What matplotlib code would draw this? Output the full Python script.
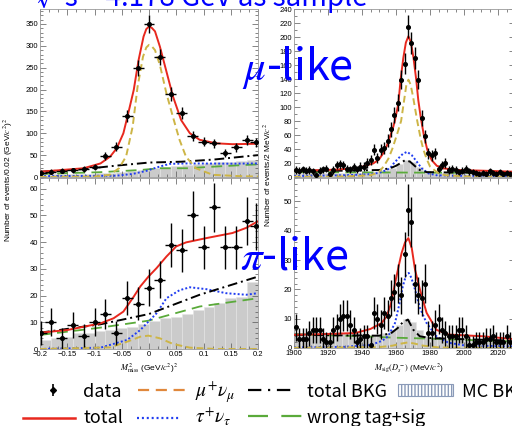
import numpy as np
import matplotlib.pyplot as plt
from matplotlib.patches import Rectangle
from matplotlib.ticker import MultipleLocator, AutoMinorLocator, FuncFormatter

plt.rcParams['font.family'] = ['Liberation Sans', 'DejaVu Sans']
plt.rcParams['mathtext.fontset'] = 'stix'

# ---------------- left column: M^2_miss ----------------
m2_x = [-0.198, -0.18, -0.16, -0.14, -0.12, -0.10, -0.08, -0.06, -0.04, -0.02, 0.0,
        0.02, 0.04, 0.06, 0.08, 0.10, 0.12, 0.14, 0.16, 0.18, 0.196]
m2_mc_x = [-0.19, -0.17, -0.15, -0.13, -0.11, -0.09, -0.07, -0.05, -0.03, -0.01,
           0.01, 0.03, 0.05, 0.07, 0.09, 0.11, 0.13, 0.15, 0.17, 0.19]

# mu-like
tl_n = [10, 12, 14, 15, 18, 22, 49, 69, 140, 249, 349, 275, 190, 147, 94, 81, 77, 54, 68, 85, 79]
tl_mc = [5, 6, 7, 8, 8, 9, 10, 12, 14, 17, 21, 24, 26, 28, 30, 32, 34, 35, 37, 39]
tl_red_x = [-0.2, -0.12, -0.089, -0.071, -0.059, -0.047, -0.038, -0.028, -0.019, -0.01, -0.005, 0.0,
            0.005, 0.011, 0.02, 0.032, 0.044, 0.059, 0.075, 0.093, 0.123, 0.153, 0.2]
tl_red_y = [12, 20, 31, 47, 66, 100, 146, 199, 268, 321, 338, 344, 341, 333, 298, 241, 184, 130, 100,
            85, 77, 75, 76]
tl_mu_x = [-0.2, -0.1, -0.072, -0.055, -0.042, -0.03, -0.021, -0.011, -0.005, 0.0, 0.005, 0.011,
           0.02, 0.032, 0.044, 0.056, 0.068, 0.086, 0.117, 0.166, 0.2]
tl_mu_y = [0, 1, 5, 20, 47, 115, 206, 275, 296, 302, 299, 290, 256, 191, 137, 85, 46, 20, 5, 2, 1]
tl_bkg_x = [-0.2, -0.12, -0.06, 0.0, 0.06, 0.12, 0.2]
tl_bkg_y = [12, 18, 26, 33, 35, 40, 50]
tl_tau_x = [-0.2, -0.06, -0.03, -0.005, 0.02, 0.038, 0.07, 0.15, 0.2]
tl_tau_y = [2, 3, 7, 14, 24, 30, 31, 30.5, 31]
tl_wt_x = [-0.2, -0.09, -0.016, 0.02, 0.07, 0.123, 0.2]
tl_wt_y = [7, 11, 16, 20, 20, 24, 29]

# pi-like
bl_n = [6, 10, 4, 9, 5, 10, 13, 6, 19, 17, 23, 26, 39, 37, 50, 38, 53, 38, 38, 48, 46]
bl_mc = [3.5, 4, 4.6, 6, 6.1, 6.8, 7.1, 7.8, 8.4, 9.4, 10.3, 11.5, 12.1, 13.1, 14.6, 15.9, 17.1,
         19, 19.6, 24.9]
bl_red_x = [-0.2, -0.15, -0.089, -0.065, -0.047, -0.028, -0.016, -0.001, 0.014, 0.032, 0.05,
            0.068, 0.105, 0.153, 0.178, 0.2]
bl_red_y = [6.1, 7.1, 9.6, 11.5, 14, 19.6, 23.4, 27.1, 30.3, 34.6, 38.4, 39.9, 41.5, 43.4, 45.3, 47.8]
bl_mu_x = [-0.2, -0.071, -0.04, -0.016, -0.001, 0.02, 0.044, 0.075, 0.123, 0.2]
bl_mu_y = [0, 0.6, 2.75, 4.6, 5, 4, 1.9, 0.5, 0, 0]
bl_bkg_x = [-0.2, -0.089, 0.0, 0.093, 0.2]
bl_bkg_y = [6.1, 9.25, 13.1, 20.3, 27.1]
bl_tau_x = [-0.2, -0.089, -0.04, -0.016, -0.001, 0.014, 0.032, 0.056, 0.075, 0.105, 0.141, 0.178, 0.2]
bl_tau_y = [0, 0.5, 3.4, 7.1, 10.25, 13.4, 19, 22, 23.1, 22.4, 20.9, 20.3, 20.9]
bl_wt_x = [-0.2, -0.089, -0.001, 0.093, 0.2]
bl_wt_y = [5.25, 8, 10.6, 15.9, 19]

# ---------------- right column: M_sig(Ds) ----------------
ms_x = np.arange(1901, 2029, 2)
ms_mc_x = np.arange(1902, 2031, 4)

tr_n = [10, 9, 11, 9, 10, 8, 3, 9, 11, 12,
        5, 10, 17, 18, 17, 12, 11, 14, 11, 15,
        15, 20, 24, 39, 27, 39, 42, 52, 68, 89,
        106, 139, 162, 215, 191, 170, 139, 84, 58, 34,
        31, 34, 12, 17, 20, 10, 12, 10, 7, 9,
        12, 8, 7, 6, 5, 6, 4, 8, 6, 5,
        7, 4, 6, 5]
tr_mc = [6, 6, 6, 6, 6, 6, 6, 6, 6, 6,
         7, 7, 8, 10, 13, 18, 24, 21, 14, 9,
         6, 6, 5.5, 5.5, 5.5, 5, 5, 5, 5, 5, 5, 5, 5]
tr_red_x = [1900, 1920, 1937, 1946.7, 1950, 1952.5, 1954.5, 1956.5, 1958, 1959.4, 1961.4, 1962.7,
            1964.3, 1965.8, 1967.3, 1968.8, 1970.3, 1971.9, 1973.1, 1974.5, 1976.5, 1978.4, 1981,
            1984, 1987.8, 1995.7, 2011, 2030]
tr_red_y = [9, 10, 12.5, 19.5, 25, 34, 44, 58, 68, 81, 105, 139, 170, 192, 201, 192, 170, 139, 110,
            86, 58, 39, 24, 16, 12.4, 10, 9, 7.5]
tr_mu_x = [1900, 1930, 1945, 1950, 1952.7, 1955.5, 1957.8, 1960.5, 1963, 1964.8, 1966, 1967.3,
           1968.6, 1970, 1972.5, 1974.5, 1976, 1978, 1980, 1984, 1989, 2000, 2030]
tr_mu_y = [0.3, 0.8, 2.5, 7, 15, 26, 40, 60, 80, 110, 130, 139, 132, 115, 80, 55, 40, 26, 15, 7,
           2.5, 1, 0.3]
tr_bkg_x = [1900, 1930, 1950, 1956.5, 1960, 1962.4, 1965.3, 1968.2, 1971.1, 1974, 1978, 1990, 2030]
tr_bkg_y = [9, 9, 10, 12.4, 16, 19.5, 24, 22, 15.7, 10, 7, 6.5, 6]
tr_tau_x = [1900, 1930, 1945, 1950, 1953, 1956.5, 1958.5, 1961.4, 1964, 1966.5, 1969.2, 1972.2,
            1975.1, 1979, 1984, 1995, 2030]
tr_tau_y = [1.5, 2.5, 4, 6, 8.5, 12.4, 19, 26.7, 33, 36, 31.4, 22, 12.4, 5.2, 2.4, 1.8, 1.5]
tr_wt_x = [1900, 1950, 2000, 2030]
tr_wt_y = [7, 6.5, 6, 5.5]

br_n = [7, 3, 3, 3, 5, 6, 6, 6, 3, 2,
        2, 6, 7, 10, 11, 11, 8, 6, 2, 3,
        4, 4, 1, 12, 10, 8, 12, 11, 17, 19,
        22, 18, 32, 47, 43, 22, 18, 17, 22, 5,
        5, 8, 10, 6, 5, 4, 4, 4, 6, 6,
        4, 1, 1, 2, 2, 2, 3, 3, 4, 2,
        2, 2, 4, 2]
br_mc = [5, 5, 5, 5, 5, 5, 5, 5, 5, 5,
         4.5, 4.5, 4.5, 5, 6, 8, 10, 9, 6, 4,
         3.5, 3, 3, 3, 3, 3, 2.8, 2.8, 2.8, 2.8, 2.5, 2.5, 2.5]
br_red_x = [1900, 1920, 1936, 1945, 1951.5, 1954.5, 1957, 1959.4, 1961.4, 1963.3, 1965.3, 1967.3,
            1969.3, 1971.2, 1974.1, 1978, 1983.8, 1990.8, 2011, 2030]
br_red_y = [4.5, 4.8, 5.1, 6.5, 8.5, 10.8, 15, 22, 27.5, 32.4, 36, 37.5, 34, 26.7, 19.9, 12, 6.2,
            4.6, 4, 3]
br_mu_x = [1900, 1950, 1958, 1963, 1967, 1971, 1976, 1985, 2000, 2030]
br_mu_y = [0.1, 0.3, 0.8, 1.5, 1.9, 1.5, 0.8, 0.2, 0.05, 0]
br_bkg_x = [1900, 1930, 1950, 1957, 1961, 1964, 1967, 1970.2, 1974, 1980, 2000, 2030]
br_bkg_y = [4.5, 4.3, 4.2, 5, 6.8, 8.8, 9.7, 6.2, 4, 3.4, 3, 2.5]
br_tau_x = [1900, 1930, 1945.6, 1952, 1955.4, 1959.4, 1962, 1964, 1966, 1967.5, 1969, 1971.2,
            1974.1, 1978, 1983.8, 1990.8, 2000, 2030]
br_tau_y = [0.2, 0.4, 1.1, 2.5, 4, 8.5, 15, 21, 25, 25.6, 24, 19.9, 13.6, 8.5, 4, 1.8, 0.9, 0.5]
br_wt_x = [1900, 1940, 1960, 1980, 2000, 2030]
br_wt_y = [4.7, 4, 3.5, 3.2, 2.8, 2.2]

RED = '#e8281e'
GOLD = '#cdb546'
ORANGE = '#e0883c'
BLUE = '#1f3cf0'
GREEN = '#5aaa3a'
GRAY = '#cbcbcb'

W, H = 512.0, 426.0


def box(l, t, r, b):
    return [l / W, 1 - b / H, (r - l) / W, (b - t) / H]


def panel(ax, xc, n, xerr, mcx, mc, mcw, curves):
    ax.bar(mcx, mc, width=mcw, color=GRAY, edgecolor='#e4e4e4', linewidth=0.4, zorder=1)
    wt, tau, bkg, mu, red = curves
    ax.plot(*wt, color=GREEN, lw=1.3, dashes=(6, 3.5), zorder=2)
    ax.plot(*tau, color=BLUE, lw=1.4, dashes=(1, 1.1), zorder=3)
    ax.plot(*bkg, color='black', lw=1.4, dashes=(5, 2, 1, 2), zorder=3)
    ax.plot(*mu, color=GOLD, lw=1.4, dashes=(3.5, 2), zorder=3)
    ax.plot(*red, color=RED, lw=1.4, zorder=4)
    n = np.array(n, dtype=float)
    ax.errorbar(xc, n, yerr=np.sqrt(n) + 2, xerr=xerr, fmt='o', ms=2.6, color='black',
                elinewidth=1.0, capsize=0, zorder=5)


def style(ax):
    ax.tick_params(which='both', direction='in', top=True, right=True, labelsize=5.5,
                   color='#555555', width=0.5, pad=1.5)
    ax.tick_params(which='major', length=4)
    ax.tick_params(which='minor', length=2)
    for s in ax.spines.values():
        s.set_color('#999999')
        s.set_linewidth(0.6)


fig = plt.figure(figsize=(5.12, 4.26), dpi=100)

ax_tl = fig.add_axes(box(40, 9, 258, 177))
ax_bl = fig.add_axes(box(40, 178, 258, 349))
ax_tr = fig.add_axes(box(294, 9, 515, 177))
ax_br = fig.add_axes(box(294, 178, 515, 348))

panel(ax_tl, m2_x, tl_n, 0.01, m2_mc_x, tl_mc, 0.02,
      [(tl_wt_x, tl_wt_y), (tl_tau_x, tl_tau_y), (tl_bkg_x, tl_bkg_y), (tl_mu_x, tl_mu_y),
       (tl_red_x, tl_red_y)])
panel(ax_bl, m2_x, bl_n, 0.01, m2_mc_x, bl_mc, 0.02,
      [(bl_wt_x, bl_wt_y), (bl_tau_x, bl_tau_y), (bl_bkg_x, bl_bkg_y), (bl_mu_x, bl_mu_y),
       (bl_red_x, bl_red_y)])
panel(ax_tr, ms_x, tr_n, 1, ms_mc_x, tr_mc, 4,
      [(tr_wt_x, tr_wt_y), (tr_tau_x, tr_tau_y), (tr_bkg_x, tr_bkg_y), (tr_mu_x, tr_mu_y),
       (tr_red_x, tr_red_y)])
panel(ax_br, ms_x, br_n, 1, ms_mc_x, br_mc, 4,
      [(br_wt_x, br_wt_y), (br_tau_x, br_tau_y), (br_bkg_x, br_bkg_y), (br_mu_x, br_mu_y),
       (br_red_x, br_red_y)])

fmt = FuncFormatter(lambda v, p: ('%g' % round(v, 3)).replace('-', '\u2212'))
for ax in (ax_tl, ax_bl):
    ax.set_xlim(-0.2, 0.2)
    ax.xaxis.set_major_locator(MultipleLocator(0.05))
    ax.xaxis.set_minor_locator(AutoMinorLocator(3))
    ax.xaxis.set_major_formatter(fmt)
for ax in (ax_tr, ax_br):
    ax.set_xlim(1900, 2030)
    ax.xaxis.set_major_locator(MultipleLocator(20))
    ax.xaxis.set_minor_locator(MultipleLocator(5))

ax_tl.set_ylim(0, 384)
ax_tl.yaxis.set_major_locator(MultipleLocator(50))
ax_tl.yaxis.set_minor_locator(MultipleLocator(10))
ax_bl.set_ylim(0, 64)
ax_bl.yaxis.set_major_locator(MultipleLocator(10))
ax_bl.yaxis.set_minor_locator(MultipleLocator(2))
ax_tr.set_ylim(0, 240)
ax_tr.yaxis.set_major_locator(MultipleLocator(20))
ax_tr.yaxis.set_minor_locator(MultipleLocator(10))
ax_br.set_ylim(0, 58)
ax_br.yaxis.set_major_locator(MultipleLocator(10))
ax_br.yaxis.set_minor_locator(MultipleLocator(2))

for ax in (ax_tl, ax_bl, ax_tr, ax_br):
    style(ax)
ax_tl.tick_params(labelbottom=False)
ax_tr.tick_params(labelbottom=False)

# overlay in pixel coordinates for labels and legend
lg = fig.add_axes([0, 0, 1, 1])
lg.set_xlim(0, W)
lg.set_ylim(H, 0)
lg.axis('off')

cjk = ['Noto Sans CJK SC', 'DejaVu Sans']

lg.text(8, 180, 'Number of events/0.02 (GeV/$c^2$)$^2$', rotation=90, ha='center', va='center',
        fontsize=6)
lg.text(267, 175, 'Number of events/2 MeV/$c^2$', rotation=90, ha='center', va='center', fontsize=6)
lg.text(149, 368, r'$M^2_{\rm miss}$ (GeV/$c^2$)$^2$', ha='center', va='center', fontsize=6)
lg.text(409, 368, r'$M_{\rm sig}(D_s^-)$ (MeV/$c^2$)', ha='center', va='center', fontsize=6)

lg.text(37, 6, '\u221as = 4.178 GeV as sample', color='blue', fontsize=20, va='baseline',
        family=cjk)
lg.text(242, 80, r'$\mu$-like', color='blue', fontsize=31, va='baseline', family=cjk)
lg.text(240, 270, r'$\pi$-like', color='blue', fontsize=31, va='baseline', family=cjk)

# legend
lg.errorbar([53], [390], yerr=[6], fmt='D', ms=3, color='black', elinewidth=1.2, capsize=0)
lg.plot([23, 75], [418, 418], color=RED, lw=1.8)
lg.plot([138, 186], [390, 390], color=ORANGE, lw=1.6, dashes=(5, 3))
lg.plot([137, 181], [418, 418], color=BLUE, lw=1.6, dashes=(0.9, 1.3))
lg.plot([248, 294], [390, 390], color='black', lw=1.6, dashes=(6, 3, 1, 3))
lg.plot([248, 302], [416, 416], color=GREEN, lw=1.6, dashes=(9, 6))
lg.add_patch(Rectangle((398, 384), 55, 12, facecolor='white', edgecolor='#8a9ab8', lw=0.8,
                       hatch='|||||'))

lfs = 13
lg.text(83, 397, 'data', fontsize=lfs, va='baseline', family=cjk)
lg.text(83, 423, 'total', fontsize=lfs, va='baseline', family=cjk)
lg.text(195, 397, r'$\mu^{+}\nu_{\mu}$', fontsize=lfs + 1, va='baseline')
lg.text(195, 423, r'$\tau^{+}\nu_{\tau}$', fontsize=lfs + 1, va='baseline')
lg.text(307, 397, 'total BKG', fontsize=lfs, va='baseline', family=cjk)
lg.text(307, 423, 'wrong tag+sig', fontsize=lfs, va='baseline', family=cjk)
lg.text(462, 397, 'MC BKG', fontsize=lfs, va='baseline', family=cjk)

fig.savefig('out.png', dpi=100)
